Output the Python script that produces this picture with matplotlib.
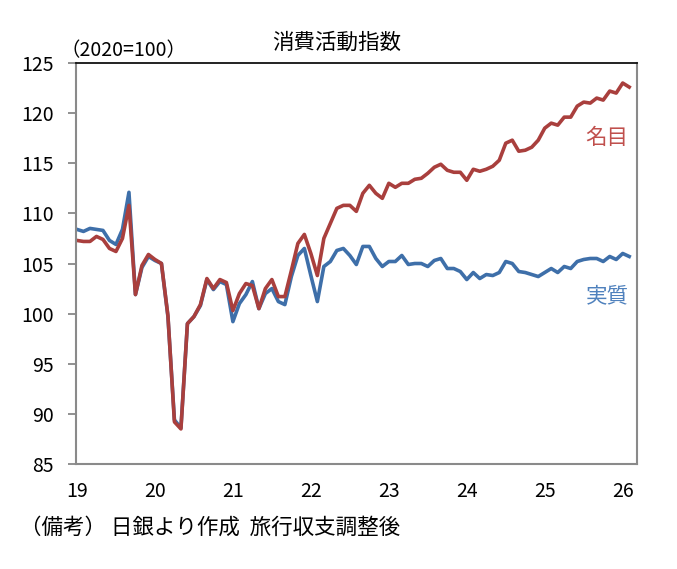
import numpy as np
import matplotlib
matplotlib.use("Agg")
import matplotlib.pyplot as plt

plt.rcParams['font.family'] = ['Noto Sans CJK JP', 'DejaVu Sans']

# monthly index, Jan 2019 - Feb 2026 (2020=100)
real = [
    108.4, 108.2, 108.5, 108.4, 108.3, 107.3, 106.9, 108.4, 112.1, 101.9, 104.6, 105.7,
    105.3, 105.0, 99.7, 89.4, 88.6, 99.0, 99.7, 100.8, 103.4, 102.4, 103.2, 102.9,
    99.2, 101.0, 101.9, 103.2, 100.5, 102.0, 102.5, 101.2, 100.9, 103.7, 105.8, 106.5,
    103.8, 101.2, 104.7, 105.2, 106.3, 106.5, 105.8, 104.9, 106.7, 106.7, 105.5, 104.7,
    105.2, 105.2, 105.8, 104.9, 105.0, 105.0, 104.7, 105.3, 105.5, 104.5, 104.5, 104.2,
    103.4, 104.1, 103.5, 103.9, 103.8, 104.1, 105.2, 105.0, 104.2, 104.1, 103.9, 103.7,
    104.1, 104.5, 104.1, 104.7, 104.5, 105.2, 105.4, 105.5, 105.5, 105.2, 105.7, 105.4,
    106.0, 105.7,
]
nominal = [
    107.3, 107.2, 107.2, 107.7, 107.4, 106.5, 106.2, 107.5, 110.8, 101.9, 104.8, 105.9,
    105.4, 105.0, 99.8, 89.2, 88.5, 99.0, 99.7, 100.9, 103.5, 102.5, 103.4, 103.1,
    100.3, 102.0, 103.0, 102.8, 100.5, 102.5, 103.4, 101.7, 101.7, 104.3, 107.0, 107.9,
    106.0, 103.8, 107.5, 109.0, 110.5, 110.8, 110.8, 110.2, 112.0, 112.8, 112.0, 111.5,
    113.0, 112.6, 113.0, 113.0, 113.4, 113.5, 114.0, 114.6, 114.9, 114.3, 114.1, 114.1,
    113.3, 114.4, 114.2, 114.4, 114.7, 115.3, 117.0, 117.3, 116.2, 116.3, 116.6, 117.3,
    118.5, 119.0, 118.8, 119.6, 119.6, 120.7, 121.1, 121.0, 121.5, 121.3, 122.2, 122.0,
    123.0, 122.6,
]
year_labels = ['19', '20', '21', '22', '23', '24', '25', '26']

W, H = 677, 569
fig = plt.figure(figsize=(W / 100, H / 100), dpi=100)
ax = fig.add_axes([76 / W, (H - 464) / H, (637 - 76) / W, (464 - 63) / H])

x = np.arange(len(real))
ax.plot(x, real, color='#3E6FA9', lw=2.6, solid_joinstyle='round')
ax.plot(x, nominal, color='#A93F3D', lw=2.6, solid_joinstyle='round')

ax.set_xlim(-0.15, 86.2)
ax.set_ylim(85, 125)
ax.set_yticks(np.arange(85, 126, 5))
ax.set_xticks(np.arange(len(year_labels)) * 12)
ax.set_xticklabels(year_labels)

for lab in ax.get_xticklabels() + ax.get_yticklabels():
    lab.set_fontsize(14)
ax.tick_params(axis='y', direction='out', length=6, width=1.3, color='#888888', pad=10)
ax.tick_params(axis='x', length=0, pad=12)

for side in ['left', 'bottom', 'right']:
    ax.spines[side].set_color('#8a8a8a')
    ax.spines[side].set_linewidth(1.5)
ax.spines['top'].set_color('#111111')
ax.spines['top'].set_linewidth(1.3)

fig.text(337 / W, 1 - 43 / H, '消費活動指数', ha='center', va='center', fontsize=15.5)
fig.text(60 / W, 1 - 51 / H, '（2020=100）', ha='left', va='center', fontsize=14)
fig.text(607 / W, 1 - 138 / H, '名目', ha='center', va='center', fontsize=15.5, color='#C0504D')
fig.text(607 / W, 1 - 296 / H, '実質', ha='center', va='center', fontsize=15.5, color='#4F81BD')
fig.text(20 / W, 1 - 528 / H, '（備考） 日銀より作成  旅行収支調整後', ha='left', va='center',
         fontsize=15.5)

fig.savefig('out.png', dpi=100)
